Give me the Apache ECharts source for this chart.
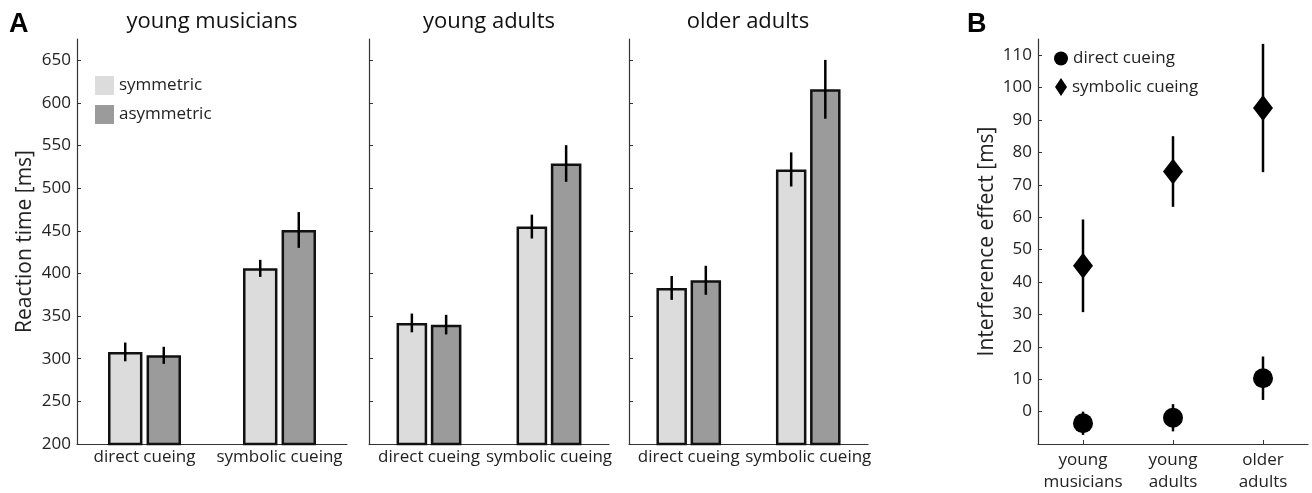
<!DOCTYPE html>
<html>
<head>
<meta charset="utf-8">
<script src="https://cdn.jsdelivr.net/npm/echarts@6/dist/echarts.min.js"></script>
<style>
html,body{margin:0;padding:0;background:#fff;}
#c{width:1312px;height:493px;}
</style>
</head>
<body>
<div id="c"></div>
<script>
// ---- data ----
const groups = ['young musicians', 'young adults', 'older adults'];
const groupLabels = ['young\nmusicians', 'young\nadults', 'older\nadults'];
const cueTypes = ['direct cueing', 'symbolic cueing'];
const rtTicks = [200, 250, 300, 350, 400, 450, 500, 550, 600, 650];
const interfTicks = [0, 10, 20, 30, 40, 50, 60, 70, 80, 90, 100, 110];

// reaction times per group: [direct, symbolic]
const rtSymmetric = [[308, 406], [342, 455], [383, 522]];
const rtSymmetricErr = [[11, 10], [11, 14], [14, 20]];
const rtAsymmetric = [[304, 451], [340, 529], [392, 616]];
const rtAsymmetricErr = [[10, 21], [11.5, 21.5], [17, 34.5]];

// interference effect per group
const interfDirect = [-3.6, -1.9, 10.3];
const interfDirectErr = [3.6, 4.2, 6.7];
const interfSymbolic = [45, 74.1, 93.7];
const interfSymbolicErr = [14.3, 10.9, 19.8];

// ---- chart ----
const FONT = '"Open Sans", sans-serif';
const TXT = '#222';
const AX = '#333';
const BAR_W = 0.255, BAR_GAP = 0.12;
const OFF = (BAR_W + BAR_W * BAR_GAP) / 2;

function errRender(offFrac) {
  return function (params, api) {
    const x = api.value(0);
    const p1 = api.coord([x, api.value(1)]);
    const p2 = api.coord([x, api.value(2)]);
    const band = api.size([1, 0])[0];
    const dx = offFrac * band;
    return {
      type: 'line',
      shape: { x1: p1[0] + dx, y1: p1[1], x2: p2[0] + dx, y2: p2[1] },
      style: { stroke: '#000', lineWidth: 2.5 }
    };
  };
}
function errData(vals, errs) {
  return vals.map((v, i) => [i, v - errs[i], v + errs[i]]);
}

const grids = [
  { left: 77, top: 39, width: 270, height: 405 },
  { left: 369, top: 39, width: 240, height: 405 },
  { left: 629, top: 39, width: 239, height: 405 },
  { left: 1038, top: 39, width: 270, height: 405 }
];

const axisLine = { show: true, onZero: false, lineStyle: { color: AX, width: 1.2 } };
const xAxes = [], yAxes = [], series = [];
groups.forEach((g, gi) => {
  xAxes.push({
    type: 'category', gridIndex: gi, data: cueTypes,
    axisLine: axisLine, axisTick: { show: false },
    axisLabel: { interval: 0, color: TXT, fontFamily: FONT, fontSize: 17, margin: 5 }
  });
  yAxes.push({
    type: 'value', gridIndex: gi, min: 200, max: 675,
    name: gi === 0 ? 'Reaction time [ms]' : '',
    nameLocation: 'middle', nameGap: 41,
    nameTextStyle: { color: TXT, fontFamily: FONT, fontSize: 21 },
    axisLine: axisLine,
    axisTick: { show: true, inside: true, length: 4, customValues: rtTicks, lineStyle: { color: AX } },
    axisLabel: { show: gi === 0, customValues: rtTicks, color: TXT, fontFamily: FONT, fontSize: 17, margin: 6 },
    splitLine: { show: false }
  });
  series.push({
    name: 'symmetric', type: 'bar', xAxisIndex: gi, yAxisIndex: gi,
    data: rtSymmetric[gi], barWidth: (BAR_W * 100) + '%', barGap: (BAR_GAP * 100) + '%',
    itemStyle: { color: '#dcdcdc', borderColor: '#111', borderWidth: 2.5 },
    emphasis: { disabled: true }
  });
  series.push({
    name: 'asymmetric', type: 'bar', xAxisIndex: gi, yAxisIndex: gi,
    data: rtAsymmetric[gi], barWidth: (BAR_W * 100) + '%', barGap: (BAR_GAP * 100) + '%',
    itemStyle: { color: '#9b9b9b', borderColor: '#111', borderWidth: 2.5 },
    emphasis: { disabled: true }
  });
  series.push({
    name: 'err-sym', type: 'custom', xAxisIndex: gi, yAxisIndex: gi, z: 5,
    renderItem: errRender(-OFF), encode: { x: 0, y: [1, 2] },
    data: errData(rtSymmetric[gi], rtSymmetricErr[gi])
  });
  series.push({
    name: 'err-asym', type: 'custom', xAxisIndex: gi, yAxisIndex: gi, z: 5,
    renderItem: errRender(OFF), encode: { x: 0, y: [1, 2] },
    data: errData(rtAsymmetric[gi], rtAsymmetricErr[gi])
  });
});

// panel B
xAxes.push({
  type: 'category', gridIndex: 3, data: groupLabels,
  axisLine: axisLine,
  axisTick: { show: true, inside: true, length: 4, alignWithLabel: true, lineStyle: { color: AX } },
  axisLabel: { interval: 0, color: TXT, fontFamily: FONT, fontSize: 17, lineHeight: 22, margin: 5 }
});
yAxes.push({
  type: 'value', gridIndex: 3, min: -10, max: 115,
  name: 'Interference effect [ms]', nameLocation: 'middle', nameGap: 40,
  nameTextStyle: { color: TXT, fontFamily: FONT, fontSize: 21 },
  axisLine: axisLine,
  axisTick: { show: true, inside: true, length: 4, customValues: interfTicks, lineStyle: { color: AX } },
  axisLabel: { customValues: interfTicks, color: TXT, fontFamily: FONT, fontSize: 17, margin: 6 },
  splitLine: { show: false }
});
series.push({
  name: 'err-direct', type: 'custom', xAxisIndex: 3, yAxisIndex: 3, z: 3,
  renderItem: errRender(0), encode: { x: 0, y: [1, 2] },
  data: errData(interfDirect, interfDirectErr)
});
series.push({
  name: 'err-symbolic', type: 'custom', xAxisIndex: 3, yAxisIndex: 3, z: 3,
  renderItem: errRender(0), encode: { x: 0, y: [1, 2] },
  data: errData(interfSymbolic, interfSymbolicErr)
});
series.push({
  name: 'direct cueing', type: 'scatter', xAxisIndex: 3, yAxisIndex: 3, z: 4,
  symbol: 'circle', symbolSize: 20, data: interfDirect,
  itemStyle: { color: '#000', opacity: 1 }, emphasis: { disabled: true }
});
series.push({
  name: 'symbolic cueing', type: 'scatter', xAxisIndex: 3, yAxisIndex: 3, z: 4,
  symbol: 'diamond', symbolSize: [20, 26], data: interfSymbolic,
  itemStyle: { color: '#000', opacity: 1 }, emphasis: { disabled: true }
});

const titleStyle = { color: '#111', fontFamily: FONT, fontSize: 22, fontWeight: 'normal' };
const option = {
  animation: false,
  backgroundColor: '#fff',
  title: [
    { text: 'A', left: 9, top: 11, padding: 0, textStyle: { color: '#000', fontFamily: '"Liberation Sans", Arial, sans-serif', fontSize: 27, fontWeight: 'bold' } },
    { text: 'B', left: 967, top: 11, padding: 0, textStyle: { color: '#000', fontFamily: '"Liberation Sans", Arial, sans-serif', fontSize: 27, fontWeight: 'bold' } },
    { text: groups[0], left: 212, top: 11, padding: 0, textAlign: 'center', textStyle: titleStyle },
    { text: groups[1], left: 489, top: 11, padding: 0, textAlign: 'center', textStyle: titleStyle },
    { text: groups[2], left: 748, top: 11, padding: 0, textAlign: 'center', textStyle: titleStyle }
  ],
  legend: [
    {
      data: ['symmetric', 'asymmetric'], orient: 'vertical', left: 95, top: 76, padding: 0,
      itemWidth: 19, itemHeight: 19, itemGap: 10, icon: 'rect',
      itemStyle: { borderWidth: 0 },
      textStyle: { color: TXT, fontFamily: FONT, fontSize: 17 }, selectedMode: false
    },
    {
      data: ['direct cueing'], orient: 'vertical', left: 1054, top: 50, padding: 0,
      itemWidth: 14, itemHeight: 14, icon: 'circle',
      textStyle: { color: TXT, fontFamily: FONT, fontSize: 17 }, selectedMode: false
    },
    {
      data: ['symbolic cueing'], orient: 'vertical', left: 1055, top: 78, padding: 0,
      itemWidth: 12, itemHeight: 18, icon: 'diamond',
      textStyle: { color: TXT, fontFamily: FONT, fontSize: 17 }, selectedMode: false
    }
  ],
  grid: grids,
  xAxis: xAxes,
  yAxis: yAxes,
  series: series
};
const chart = echarts.init(document.getElementById('c'), null, { renderer: 'canvas' });
chart.setOption(option);
</script>
</body>
</html>
